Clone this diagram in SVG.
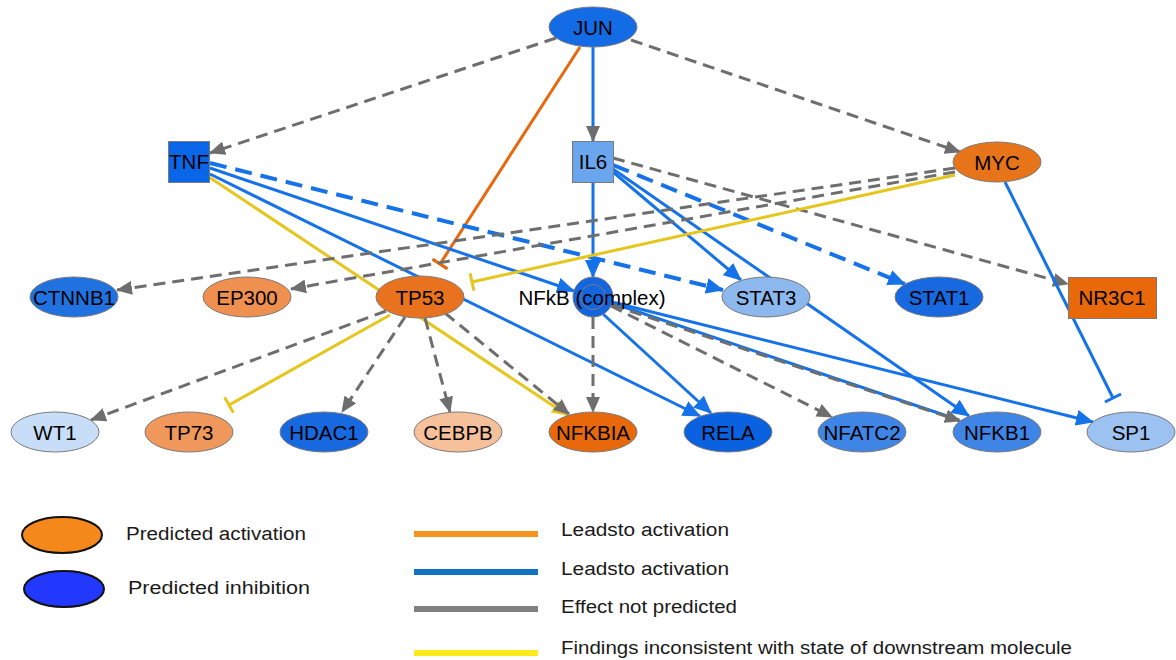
<svg xmlns="http://www.w3.org/2000/svg" width="1176" height="660" viewBox="0 0 1176 660">
<style>
.n{stroke:#7a7a7a;stroke-width:1}
.t{font-family:"Liberation Sans",Arial,sans-serif;font-size:20.5px;fill:#000;text-anchor:middle}
.g{stroke:#6e6e6e;stroke-width:3;fill:none;stroke-dasharray:12,7}
.b{stroke:#1572e8;stroke-width:3;fill:none}
.bd{stroke:#1572e8;stroke-width:4;fill:none;stroke-dasharray:17,9}
.y{stroke:#e6c51c;stroke-width:3;fill:none}
.o{stroke:#e8670c;stroke-width:3;fill:none}
.lt{font-family:"Liberation Sans",Arial,sans-serif;font-size:18px;fill:#1a1a1a}
</style>
<defs>
<marker id="ag" viewBox="0 0 16 14" refX="15" refY="7" markerWidth="16" markerHeight="14" markerUnits="userSpaceOnUse" orient="auto"><path d="M0,0 L16,7 L0,14 z" fill="#6e6e6e"/></marker>
<marker id="ab" viewBox="0 0 18 16" refX="17" refY="8" markerWidth="18" markerHeight="16" markerUnits="userSpaceOnUse" orient="auto"><path d="M0,0 L18,8 L0,16 z" fill="#1572e8"/></marker>
<marker id="ay" viewBox="0 0 16 14" refX="15" refY="7" markerWidth="16" markerHeight="14" markerUnits="userSpaceOnUse" orient="auto"><path d="M0,0 L16,7 L0,14 z" fill="#e6c51c"/></marker>
<marker id="to" viewBox="-3 -10 6 20" refX="0" refY="0" markerWidth="6" markerHeight="20" markerUnits="userSpaceOnUse" orient="auto"><path d="M0,-9 L0,9" stroke="#e8670c" stroke-width="3"/></marker>
<marker id="ty" viewBox="-3 -10 6 20" refX="0" refY="0" markerWidth="6" markerHeight="20" markerUnits="userSpaceOnUse" orient="auto"><path d="M0,-9 L0,9" stroke="#e6c51c" stroke-width="3"/></marker>
<marker id="tb" viewBox="-3 -10 6 20" refX="0" refY="0" markerWidth="6" markerHeight="20" markerUnits="userSpaceOnUse" orient="auto"><path d="M0,-9 L0,9" stroke="#1572e8" stroke-width="3"/></marker>
</defs>
<rect width="1176" height="660" fill="#fff"/>
<g id="connectors">
<line class="g" x1="556" y1="38" x2="210" y2="153" marker-end="url(#ag)"/>
<line class="g" x1="631" y1="40" x2="960" y2="152" marker-end="url(#ag)"/>
<line class="b" x1="593" y1="47" x2="593" y2="141" marker-end="url(#ag)"/>
<line class="o" x1="580" y1="47" x2="440" y2="264" marker-end="url(#to)"/>
<line class="y" x1="209" y1="177" x2="567" y2="415" marker-end="url(#ay)"/>
<line class="b" x1="210" y1="168" x2="574" y2="291" marker-end="url(#ab)"/>
<line class="bd" x1="210" y1="163" x2="723" y2="290" marker-end="url(#ab)"/>
<line class="b" x1="210" y1="174" x2="700" y2="416" marker-end="url(#ab)"/>
<line class="b" x1="593" y1="182" x2="593" y2="277" marker-end="url(#ab)"/>
<line class="b" x1="613" y1="172" x2="741" y2="280" marker-end="url(#ab)"/>
<line class="b" x1="613" y1="169" x2="969" y2="416" marker-end="url(#ab)"/>
<line class="bd" x1="613" y1="165" x2="905" y2="284" marker-end="url(#ab)"/>
<line class="g" x1="613" y1="158" x2="1068" y2="284" marker-end="url(#ag)"/>
<line class="g" x1="955" y1="168" x2="117" y2="290" marker-end="url(#ag)"/>
<line class="g" x1="955" y1="172" x2="291" y2="289" marker-end="url(#ag)"/>
<line class="y" x1="955" y1="175" x2="472" y2="282" marker-end="url(#ty)"/>
<line class="b" x1="1005" y1="182" x2="1113" y2="398" marker-end="url(#tb)"/>
<line class="g" x1="386" y1="311" x2="91" y2="420" marker-end="url(#ag)"/>
<line class="y" x1="390" y1="315" x2="229" y2="405" marker-end="url(#ty)"/>
<line class="g" x1="405" y1="317" x2="342" y2="412" marker-end="url(#ag)"/>
<line class="g" x1="425" y1="318" x2="450" y2="412" marker-end="url(#ag)"/>
<line class="g" x1="445" y1="313" x2="569" y2="414" marker-end="url(#ag)"/>
<line class="g" x1="593" y1="317" x2="593" y2="412" marker-end="url(#ag)"/>
<line class="b" x1="603" y1="314" x2="711" y2="413" marker-end="url(#ab)"/>
<line class="g" x1="611" y1="306" x2="832" y2="417" marker-end="url(#ag)"/>
<line class="b" x1="612" y1="302" x2="1093" y2="422" marker-end="url(#ab)"/>
<line class="b" x1="612" y1="303" x2="959" y2="420"/>
<line class="g" x1="612" y1="305" x2="960" y2="421" marker-end="url(#ag)"/>
</g>
<g id="JUN"><ellipse class="n" cx="593" cy="27" rx="44" ry="20" fill="#136ce6"/><text class="t" x="593" y="34.5">JUN</text></g>
<g id="TNF"><rect class="n" x="168.5" y="141.5" width="41" height="41" fill="#0a66e8"/><text class="t" x="189" y="169">TNF</text></g>
<g id="IL6"><rect class="n" x="572.5" y="141.5" width="41" height="41" fill="#6aa6ee"/><text class="t" x="593" y="169">IL6</text></g>
<g id="MYC"><ellipse class="n" cx="997" cy="162" rx="44" ry="20" fill="#e8741a"/><text class="t" x="997" y="169.5">MYC</text></g>
<g id="CTNNB1"><ellipse class="n" cx="74" cy="297" rx="44" ry="20" fill="#1f72e0"/><text class="t" x="74" y="304.5">CTNNB1</text></g>
<g id="EP300"><ellipse class="n" cx="247" cy="297" rx="44" ry="20" fill="#f09050"/><text class="t" x="247" y="304.5">EP300</text></g>
<g id="TP53"><ellipse class="n" cx="420" cy="297" rx="44" ry="21" fill="#e8721e"/><text class="t" x="420" y="304.5">TP53</text></g>
<g id="NFkB"><circle class="n" cx="593" cy="297" r="20" fill="#1466e0"/><circle cx="593" cy="297" r="12.5" fill="none" stroke="#7a7a7a" stroke-width="1"/><text class="t" x="592" y="304.5">NFkB (complex)</text></g>
<g id="STAT3"><ellipse class="n" cx="766" cy="297" rx="44" ry="20" fill="#8cb8ee"/><text class="t" x="766" y="304.5">STAT3</text></g>
<g id="STAT1"><ellipse class="n" cx="939" cy="297" rx="44" ry="20" fill="#1868e0"/><text class="t" x="939" y="304.5">STAT1</text></g>
<g id="NR3C1"><rect class="n" x="1068.5" y="277.5" width="88" height="41" fill="#e8680a"/><text class="t" x="1112" y="305">NR3C1</text></g>
<g id="WT1"><ellipse class="n" cx="55" cy="432" rx="44" ry="20" fill="#c8def8"/><text class="t" x="55" y="439.5">WT1</text></g>
<g id="TP73"><ellipse class="n" cx="189" cy="432" rx="44" ry="20" fill="#f0985c"/><text class="t" x="189" y="439.5">TP73</text></g>
<g id="HDAC1"><ellipse class="n" cx="324" cy="432" rx="44" ry="20" fill="#1868e0"/><text class="t" x="324" y="439.5">HDAC1</text></g>
<g id="CEBPB"><ellipse class="n" cx="458" cy="432" rx="44" ry="20" fill="#f6c09a"/><text class="t" x="458" y="439.5">CEBPB</text></g>
<g id="NFKBIA"><ellipse class="n" cx="593" cy="432" rx="44" ry="20" fill="#e8680c"/><text class="t" x="593" y="439.5">NFKBIA</text></g>
<g id="RELA"><ellipse class="n" cx="728" cy="432" rx="44" ry="20" fill="#0b62e0"/><text class="t" x="728" y="439.5">RELA</text></g>
<g id="NFATC2"><ellipse class="n" cx="862" cy="432" rx="44" ry="20" fill="#3f85e6"/><text class="t" x="862" y="439.5">NFATC2</text></g>
<g id="NFKB1"><ellipse class="n" cx="997" cy="432" rx="44" ry="20" fill="#3f85e6"/><text class="t" x="997" y="439.5">NFKB1</text></g>
<g id="SP1"><ellipse class="n" cx="1131" cy="432" rx="44" ry="20" fill="#9cc2f2"/><text class="t" x="1131" y="439.5">SP1</text></g>
<g id="legend">
<ellipse cx="62" cy="535" rx="40" ry="18" fill="#f5881b" stroke="#111" stroke-width="2"/>
<ellipse cx="64" cy="589" rx="40" ry="18" fill="#2238ff" stroke="#111" stroke-width="2"/>
<text class="lt" x="126" y="540" textLength="180" lengthAdjust="spacingAndGlyphs">Predicted activation</text>
<text class="lt" x="128" y="594" textLength="182" lengthAdjust="spacingAndGlyphs">Predicted inhibition</text>
<rect x="414" y="531" width="124" height="6" fill="#f7941e"/>
<rect x="414" y="569" width="124" height="6" fill="#0f73bf"/>
<rect x="414" y="606" width="124" height="6" fill="#808080"/>
<rect x="414" y="650" width="124" height="6" fill="#fcea1b"/>
<text class="lt" x="561" y="536" textLength="168" lengthAdjust="spacingAndGlyphs">Leadsto activation</text>
<text class="lt" x="561" y="575" textLength="168" lengthAdjust="spacingAndGlyphs">Leadsto activation</text>
<text class="lt" x="561" y="613" textLength="176" lengthAdjust="spacingAndGlyphs">Effect not predicted</text>
<text class="lt" x="561" y="654" textLength="511" lengthAdjust="spacingAndGlyphs">Findings inconsistent with state of downstream molecule</text>
</g>
</svg>
